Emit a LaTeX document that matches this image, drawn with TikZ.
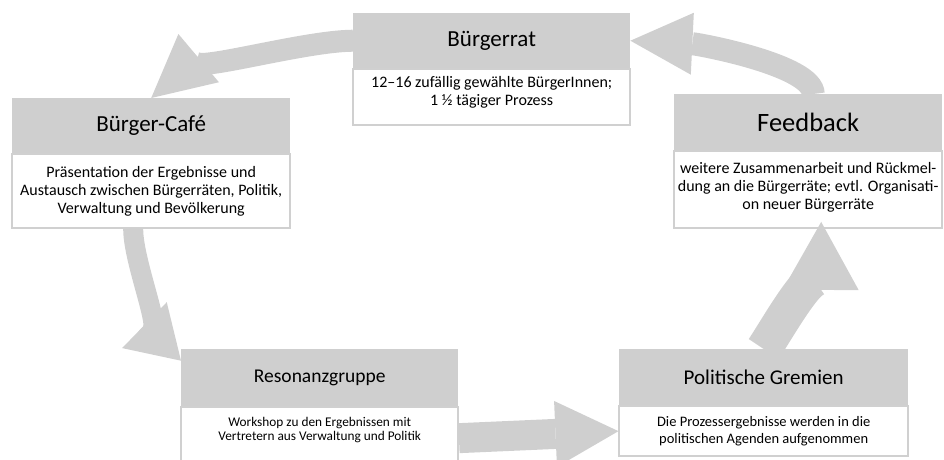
\documentclass[tikz,border=0pt]{standalone}
\usepackage{fontspec}
\setmainfont{Carlito}
\usetikzlibrary{positioning,arrows.meta}
\definecolor{boxgray}{RGB}{207,207,207}
\definecolor{edgegray}{RGB}{208,208,208}
\newcommand{\hdsize}{\fontsize{23}{27}\selectfont}
\newcommand{\txsize}{\fontsize{16}{18.3}\selectfont}
% text set from the top of a box: height, width, top gap, text
\newcommand{\toptext}[4]{\parbox[c][#1][t]{#2}{\centering\vspace*{#3}#4}}

\begin{document}
\begin{tikzpicture}[x=1pt,y=1pt,
  hd/.style={fill=boxgray,inner sep=0pt,minimum height=55pt,font=\hdsize},
  bd/.style={draw=edgegray,line width=1.5pt,fill=white,inner sep=0pt,align=center,font=\txsize},
  flow/.style={draw=boxgray,line width=#1}]
  \useasboundingbox (0,0) rectangle (944,-459);
  % boxes
  \node (rat) [hd,anchor=north west,minimum width=277pt] at (353,-13) {Bürgerrat};
  \node (ratText) [bd,below=0pt of rat,minimum width=277pt,minimum height=56pt]
    {\toptext{56pt}{277pt}{7pt}{12--16 zufällig gewählte BürgerInnen;\\1 ½ tägiger Prozess}};
  \node (cafe) [hd,anchor=north west,minimum width=278pt] at (12,-98) {Bürger-Café};
  \node (cafeText) [bd,below=0pt of cafe,minimum width=278pt,minimum height=74pt]
    {Präsentation der Ergebnisse und\\Austausch zwischen Bürgerräten, Politik,\\Verwaltung und Bevölkerung};
  \node (feedback) [hd,anchor=north west,minimum width=268pt,minimum height=56pt,
    font=\fontsize{26.5}{30}\selectfont] at (674,-94) {Feedback};
  \node (feedbackText) [bd,below=0pt of feedback,minimum width=268pt,minimum height=77pt]
    {\toptext{77pt}{268pt}{11pt}{weitere Zusammenarbeit und Rückmel-\\dung an die Bürgerräte; evtl. Organisati-\\on neuer Bürgerräte}};
  \node (reso) [hd,anchor=north west,minimum width=277pt,minimum height=57pt,
    font=\fontsize{19.5}{23}\selectfont] at (181,-349) {Resonanzgruppe};
  \node (resoText) [bd,below=0pt of reso,minimum width=277pt,minimum height=62pt,
    font=\fontsize{13.3}{14.5}\selectfont]
    {\toptext{62pt}{277pt}{10pt}{Workshop zu den Ergebnissen mit\\Vertretern aus Verwaltung und Politik}};
  \node (gremien) [hd,anchor=north west,minimum width=289pt,minimum height=56pt,
    font=\fontsize{21}{25}\selectfont] at (619,-349) {Politische Gremien};
  \node (gremienText) [bd,below=0pt of gremien,minimum width=289pt,minimum height=50pt,
    font=\fontsize{14.5}{16.7}\selectfont]
    {Die Prozessergebnisse werden in die\\politischen Agenden aufgenommen};
  % arrows
  \draw[flow=22pt,-{Triangle[length=62pt,width=63pt,line width=0pt 0]}]
    (rat.west) .. controls (300,-41) and (175,-78) .. (cafe.north);
  \draw[flow=20pt,-{Triangle[length=51pt,width=64pt,line width=0pt 0]}]
    ([xshift=-18pt]cafeText.south) .. controls (133,-265) and (170,-350) .. ([yshift=17pt]reso.west);
  \draw[flow=30pt,-{Triangle[length=63pt,width=66pt,line width=0pt 0]}]
    (resoText.east) -- (gremienText.west);
  \draw[flow=36pt,-{Triangle[length=68pt,width=76pt,line width=0pt 0]}]
    (gremien.north) .. controls (778,-328) and (821,-250) .. ([xshift=13pt,yshift=7pt]feedbackText.south);
  \draw[flow=23pt,-{Triangle[length=62pt,width=62pt,line width=0pt 0]}]
    ([xshift=5pt]feedback.north) .. controls (813,-65) and (698,-44) .. (rat.east);
\end{tikzpicture}
\end{document}
